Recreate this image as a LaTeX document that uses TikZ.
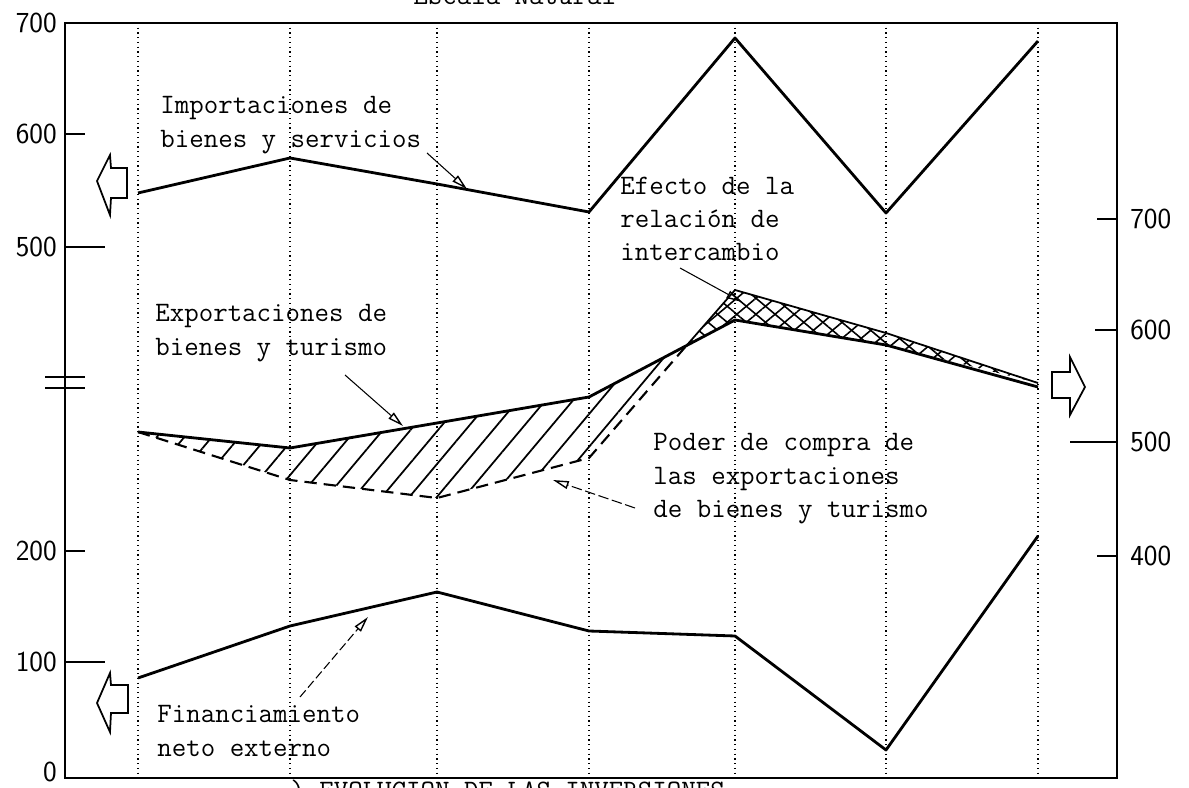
\documentclass[tikz,border=0pt]{standalone}
\usepackage{fontspec}
\usetikzlibrary{arrows.meta,patterns.meta}

\begin{document}
\begin{tikzpicture}[x=0.2mm, y=-0.2mm,
    series/.style={line width=1.6pt, line join=round},
    gridline/.style={dotted, line width=0.7pt},
    axisline/.style={line width=1pt},
    typed/.style={font=\fontsize{16}{19}\selectfont\ttfamily, align=left, anchor=west, inner sep=0pt},
    ticknum/.style={font=\fontsize{16.5}{16.5}\selectfont\sffamily, inner sep=0pt},
    pointer/.style={line width=0.6pt, -{Triangle[open, length=9pt, width=4.5pt, line width=0.8pt]}},
    blockarrow/.style={line width=1pt, line join=miter}]
    \useasboundingbox (0,0) rectangle (1189,788);
    % Hatched area: purchasing power below exports
    \fill[pattern={Lines[angle=50, distance=12pt, line width=1pt]}]
      (138,432) -- (290,448) -- (437,423) -- (589,397) -- (687,345)
      -- (589,458) -- (437,498) -- (290,480) -- cycle;
    % Cross-hatched area: terms of trade effect
    \fill[pattern={Lines[angle=40, distance=7pt, line width=0.9pt]}]
      (687,345) -- (735,290) -- (886,333) -- (1038,383) -- (886,345) -- (735,320) -- cycle;
    \fill[pattern={Lines[angle=-40, distance=7pt, line width=0.9pt]}]
      (687,345) -- (735,290) -- (886,333) -- (1038,383) -- (886,345) -- (735,320) -- cycle;
    % Frame and year grid
    \draw[axisline] (65,23) rectangle (1117,778);
    \foreach \xg in {138,290,437,589,735,886,1038}
      \draw[gridline] (\xg,23) -- (\xg,778);
    % Left scale
    \foreach \yt/\len in {134/20, 247/40, 551/20, 662/40}
      \draw[axisline] (65,\yt) -- ++(\len,0);
    \foreach \yt/\v in {23/700, 134/600, 247/500, 551/200, 662/100, 772/0}
      \node[ticknum, anchor=east] (left\v) at (57,\yt) {\v};
    \draw[axisline] (45,377) -- (85,377);
    \draw[axisline] (45,388) -- (85,388);
    % Right scale
    \foreach \yt/\len in {219/20, 330/22, 442/47, 556/20}
      \draw[axisline] (1117,\yt) -- ++(-\len,0);
    \foreach \yt/\v in {219/700, 330/600, 442/500, 556/400}
      \node[ticknum, anchor=west] (right\v) at (1130,\yt) {\v};
    % Imports
    \draw[series] (138,193) -- (290,158) -- (437,184) -- (589,212) -- (735,38) -- (886,213) -- (1038,41);
    % Exports of goods and tourism
    \draw[series] (138,432) -- (290,448) -- (437,423) -- (589,397) -- (735,320) -- (886,345) -- (1038,387);
    % Purchasing power of exports
    \draw[line width=1.2pt, dash pattern=on 7pt off 4pt] (138,432) -- (290,480) -- (437,498) -- (589,458) -- (687,345);
    \draw[line width=1pt] (687,345) -- (735,290) -- (886,333) -- (1038,383);
    % Net external financing
    \draw[series] (138,678) -- (290,626) -- (437,592) -- (589,631) -- (735,636) -- (886,750) -- (1038,536);
    % Block arrows showing which scale applies
    \draw[blockarrow] (127,168) -- (111,168) -- (110,155) -- (97,181) -- (110,215) -- (111,198) -- (127,198) -- cycle;
    \draw[blockarrow] (128,685) -- (111,685) -- (110,673) -- (97,703) -- (110,732) -- (111,713) -- (128,713) -- cycle;
    \draw[blockarrow] (1052,372) -- (1070,372) -- (1070,357) -- (1085,387) -- (1070,415) -- (1070,398) -- (1052,398) -- cycle;
    % Labels
    \node[typed] (imports) at (160,125) {Importaciones de\\bienes y servicios};
    \node[typed] (terms) at (620,219) {Efecto de la\\relación de\\intercambio};
    \node[typed] (exports) at (155,333) {Exportaciones de\\bienes y turismo};
    \node[typed] (power) at (653,479) {Poder de compra de\\las exportaciones\\de bienes y turismo};
    \node[typed] (finance) at (157,731) {Financiamiento\\neto externo};
    \node[typed, anchor=base west] (scale) at (413,5) {Escala Natural};
    \node[typed, anchor=base west] (axisnote) at (290,799) {) EVOLUCION DE LAS INVERSIONES};
    % Pointers from labels to curves
    \coordinate (imports-tail) at (427,153);
    \coordinate (imports-tip) at (467,189);
    \coordinate (exports-tail) at (345,375);
    \coordinate (exports-tip) at (403,426);
    \coordinate (terms-tail) at (680,268);
    \coordinate (terms-tip) at (742,302);
    \coordinate (power-tail) at (635,508);
    \coordinate (power-tip) at (553,480);
    \coordinate (finance-tail) at (300,697);
    \coordinate (finance-tip) at (368,617);
    \draw[pointer] (imports-tail) -- (imports-tip);
    \draw[pointer] (exports-tail) -- (exports-tip);
    \draw[pointer] (terms-tail) -- (terms-tip);
    \draw[pointer, dash pattern=on 6pt off 2pt] (power-tail) -- (power-tip);
    \draw[pointer, dash pattern=on 5pt off 2pt] (finance-tail) -- (finance-tip);
\end{tikzpicture}
\end{document}
